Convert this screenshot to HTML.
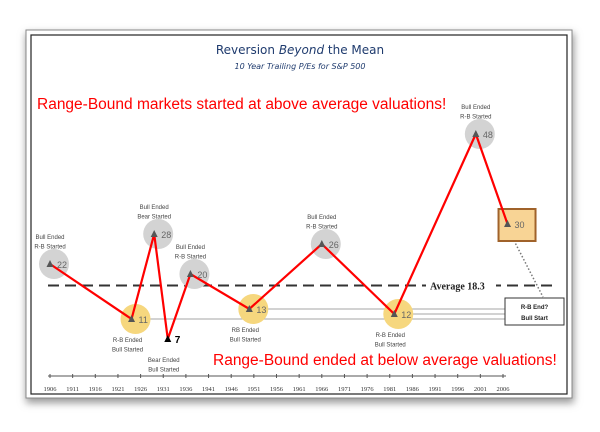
<!DOCTYPE html>
<html><head><meta charset="utf-8"><style>
body{margin:0;background:#fff;width:600px;height:427px;overflow:hidden;font-family:"Liberation Sans",sans-serif}
</style></head><body>
<svg width="600" height="427">
<defs><filter id="sh" x="-5%" y="-5%" width="110%" height="115%"><feGaussianBlur stdDeviation="4"/></filter></defs>
<rect x="26" y="33" width="548" height="370" fill="#999" filter="url(#sh)"/>
<rect x="26" y="30" width="546" height="368" fill="#fff" stroke="#888"/>
<rect x="31" y="35" width="536" height="359" fill="#fff" stroke="#222" stroke-width="1.2"/>
<text x="300" y="54" text-anchor="middle" font-size="12" fill="#1f3b6e" font-family="'DejaVu Sans',sans-serif">Reversion <tspan font-style="italic">Beyond</tspan> the Mean</text>
<text x="300" y="69" text-anchor="middle" font-size="8" font-style="italic" fill="#1f3b6e" font-family="'DejaVu Sans',sans-serif">10 Year Trailing P/Es for S&amp;P 500</text>
<text x="37" y="109" font-size="15.5" fill="#f00">Range-Bound markets started at above average valuations!</text>
<text x="213" y="365" font-size="15.5" fill="#f00">Range-Bound ended at below average valuations!</text>
<g id="g"></g>
</svg>
<script>
const years=[1906,1924,1929,1932,1937,1950,1966,1982,2000,2007];
const pes=[22,11,28,7,20,13,26,12,48,30];
const labels1=["Bull Ended","R-B Ended","Bull Ended","Bear Ended","Bull Ended","RB Ended","Bull Ended","R-B Ended","Bull Ended",""];
const labels2=["R-B Started","Bull Started","Bear Started","Bull Started","R-B Started","Bull Started","R-B Started","Bull Started","R-B Started",""];
const kinds=["g","y","g","n","g","y","g","y","g","b"];
const tickYears=[1906,1911,1916,1921,1926,1931,1936,1941,1946,1951,1956,1961,1966,1971,1976,1981,1986,1991,1996,2001,2006];
const avg=18.3;
const X=y=>50+(y-1906)*4.53, Y=v=>374-v*5;
const g=document.getElementById('g'),NS='http://www.w3.org/2000/svg';
function mk(t,a,p){const e=document.createElementNS(NS,t);for(const k in a)e.setAttribute(k,a[k]);(p||g).appendChild(e);return e;}
let ax=mk('line',{x1:48,x2:506,y1:376,y2:376,stroke:'#555'});


tickYears.forEach(t=>{const l=mk('line',{x1:X(t),x2:X(t),y1:374,y2:378,stroke:'#555'});


const tx=mk('text',{x:X(t),y:391,'text-anchor':'middle','font-size':6.5,fill:'#333','font-family':'Liberation Serif,serif'});tx.textContent=t;

});
[1,5,7].forEach(i=>{const l=mk('line',{x1:X(years[i]),x2:505,y1:Y(pes[i]),y2:Y(pes[i]),stroke:'#888','stroke-width':0.8});

});
let av=mk('line',{x1:48,x2:552,y1:Y(avg)+3,y2:Y(avg)+3,stroke:'#333','stroke-width':2,'stroke-dasharray':'11 6'});


let avb=mk('rect',{x:426,y:Y(avg)-6,width:70,height:14,fill:'#fff'});


let avt=mk('text',{x:430,y:Y(avg)+7,'font-size':10,'font-weight':'bold',fill:'#222','font-family':'Liberation Serif,serif'});avt.textContent='Average '+avg;


let bx=mk('rect',{x:505,y:298,width:59,height:27,fill:'#fff',stroke:'#333'});


[['R-B End?',309],['Bull Start',320]].forEach(([s,y])=>{const t=mk('text',{x:534.5,y:y,'text-anchor':'middle','font-size':6,'font-weight':'bold',fill:'#222'});t.textContent=s;

});
let dl=mk('path',{d:`M${X(2007)} ${Y(30)+4} L543 297`,stroke:'#777','stroke-width':1.5,'stroke-dasharray':'1.5 2',fill:'none'});


years.forEach((yr,i)=>{const cx=X(yr),cy=Y(pes[i]);let c;
if(kinds[i]=='g')c=mk('circle',{cx:cx+4,cy:cy,r:15,fill:'#d3d3d3'});
else if(kinds[i]=='y')c=mk('circle',{cx:cx+4,cy:cy,r:15,fill:'#f6d77e'});
else if(kinds[i]=='b')c=mk('rect',{x:cx-9,y:cy-15,width:37,height:32,fill:'#f8d495',stroke:'#a0622a','stroke-width':2});
if(c){
}});
let pl=mk('polyline',{points:years.map((y,i)=>X(y)+','+Y(pes[i])).join(' '),fill:'none',stroke:'#f00','stroke-width':2.2});


years.forEach((yr,i)=>{const cx=X(yr),cy=Y(pes[i]);const dark=kinds[i]=='n';
const m=mk('path',{d:`M${cx-3.5} ${cy+3} L${cx} ${cy-4} L${cx+3.5} ${cy+3}Z`,fill:dark?'#000':'#555'});


const t=mk('text',{x:cx+7,y:cy+4,'font-size':dark?10:9,'font-weight':dark?'bold':'normal',fill:dark?'#000':'#666'});t.textContent=pes[i];


if(labels1[i]){const above=kinds[i]=='g';const by=above?cy-25:cy+23;
[labels1[i],labels2[i]].forEach((s,k)=>{const tt=mk('text',{x:cx+(above?0:-4),y:by+k*9.5,'text-anchor':'middle','font-size':6,fill:'#444'});tt.textContent=s;

});}});
</script>
</body></html>
